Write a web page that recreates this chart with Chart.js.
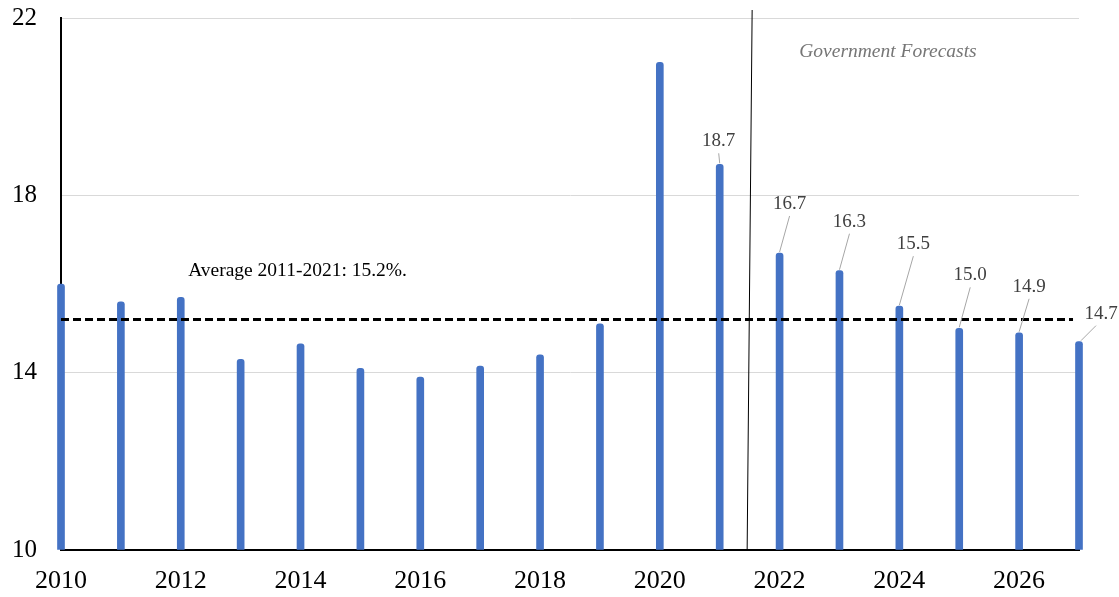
<!DOCTYPE html>
<html>
<head>
<meta charset="utf-8">
<script src="https://cdn.jsdelivr.net/npm/chart.js@4"></script>
<style>
  html, body { margin: 0; padding: 0; background: #fff; }
</style>
</head>
<body>
<canvas id="myChart" width="1119" height="597"></canvas>
<script>
const years = [2010, 2011, 2012, 2013, 2014, 2015, 2016, 2017, 2018, 2019, 2020, 2021, 2022, 2023, 2024, 2025, 2026, 2027];
const values = [16.0, 15.6, 15.7, 14.3, 14.65, 14.1, 13.9, 14.15, 14.4, 15.1, 21.0, 18.7, 16.7, 16.3, 15.5, 15.0, 14.9, 14.7];
const labelledYears = [2021, 2022, 2023, 2024, 2025, 2026, 2027];
const xTicks = [2010, 2012, 2014, 2016, 2018, 2020, 2022, 2024, 2026];
const yTicks = [10, 14, 18, 22];
const average = 15.2;
const averageText = 'Average 2011-2021: 15.2%.';
const forecastText = 'Government Forecasts';
const forecastStart = 2021.5;

const serif = '"Liberation Serif", "Times New Roman", serif';

// pixel nudges for the value labels (dx, dy from top of bar)
const labelOffsets = {
    2021: [-1, -23], 2022: [10, -49], 2023: [10, -49], 2024: [14, -62],
    2025: [11, -53], 2026: [10, -46], 2027: [22, -28]
};

const extras = {
    id: 'extras',
    afterDatasetsDraw(chart) {
        const { ctx, chartArea, scales: { x, y } } = chart;
        ctx.save();

        // average line
        ctx.strokeStyle = '#000';
        ctx.lineWidth = 3;
        ctx.setLineDash([8, 4]);
        ctx.beginPath();
        ctx.moveTo(chartArea.left, y.getPixelForValue(average));
        ctx.lineTo(x.getPixelForValue(2026.9), y.getPixelForValue(average));
        ctx.stroke();
        ctx.setLineDash([]);

        // forecast divider
        ctx.lineWidth = 1;
        ctx.strokeStyle = '#000';
        ctx.beginPath();
        ctx.moveTo(x.getPixelForValue(forecastStart) + 2.5, chartArea.top - 8);
        ctx.lineTo(x.getPixelForValue(forecastStart) - 2.5, chartArea.bottom);
        ctx.stroke();

        ctx.font = 'italic 19.5px ' + serif;
        ctx.fillStyle = '#767676';
        ctx.textAlign = 'center';
        ctx.textBaseline = 'middle';
        ctx.fillText(forecastText, x.getPixelForValue(2023.81), y.getPixelForValue(21.23));

        ctx.font = '19.5px ' + serif;
        ctx.fillStyle = '#000';
        ctx.fillText(averageText, x.getPixelForValue(2013.95), y.getPixelForValue(16.29));

        // value labels with leader lines
        ctx.font = '19px ' + serif;
        labelledYears.forEach(yr => {
            const v = values[years.indexOf(yr)];
            const px = x.getPixelForValue(yr);
            const py = y.getPixelForValue(v);
            const [dx, dy] = labelOffsets[yr];
            const lx = px + dx, ly = py + dy;
            ctx.strokeStyle = '#a6a6a6';
            ctx.lineWidth = 1;
            ctx.beginPath();
            ctx.moveTo(lx - (yr === 2027 ? 5 : 0), ly + 12);
            ctx.lineTo(px + (yr === 2027 ? 2 : 0), py - 1);
            ctx.stroke();
            ctx.fillStyle = '#404040';
            ctx.fillText(v.toFixed(1), lx, ly);
        });
        ctx.restore();
    }
};

const ctx = document.getElementById('myChart');
new Chart(ctx, {
    type: 'bar',
    data: {
        datasets: [{
            data: years.map((yr, i) => ({ x: yr, y: values[i] })),
            backgroundColor: '#4472C4',
            barThickness: 7,
            base: 10,
            borderRadius: { topLeft: 3, topRight: 3 },
            borderSkipped: 'bottom',
            clip: false
        }]
    },
    options: {
        responsive: false,
        animation: false,
        devicePixelRatio: 1,
        layout: { padding: { top: 0, right: 40, left: 0, bottom: 0 } },
        plugins: { legend: { display: false }, tooltip: { enabled: false } },
        scales: {
            x: {
                type: 'linear',
                min: 2010,
                max: 2027,
                offset: false,
                afterBuildTicks: s => { s.ticks = xTicks.map(v => ({ value: v })); },
                afterFit: s => { s.height = 47; },
                ticks: {
                    callback: v => String(v),
                    font: { family: serif, size: 26 },
                    color: '#000',
                    padding: 16,
                    maxRotation: 0
                },
                grid: { display: false, drawTicks: false },
                border: { color: '#000', width: 2 }
            },
            y: {
                min: 10,
                max: 22,
                afterBuildTicks: s => { s.ticks = yTicks.map(v => ({ value: v })); },
                afterFit: s => { s.width = 61; s.paddingTop = 18; s.paddingBottom = 0; },
                ticks: {
                    font: { family: serif, size: 25 },
                    color: '#000',
                    padding: 24
                },
                grid: { color: '#d9d9d9', lineWidth: 1, drawTicks: false },
                border: { color: '#000', width: 2 }
            }
        }
    },
    plugins: [extras]
});
</script>
</body>
</html>
